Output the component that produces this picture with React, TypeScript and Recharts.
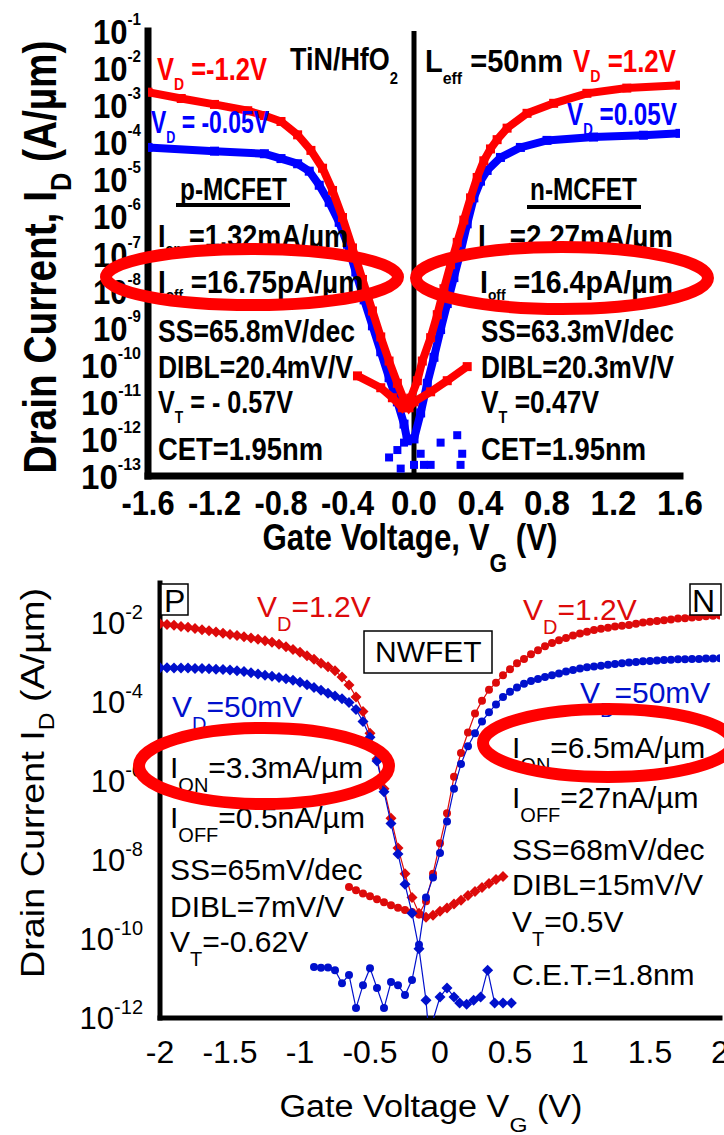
import React from "react";
import { ComposedChart, Scatter, XAxis, YAxis, ReferenceLine } from "recharts";

// upper panel lettering is a bold sans squeezed to the set widths
const BOLD = "'Liberation Sans', Arial, Helvetica, sans-serif";
const SANS = "'Liberation Sans', Arial, Helvetica, sans-serif";

// ---------- upper panel: TiN/HfO2 MCFET, [gate voltage, log10 Id] ----------
const mcXTicks = [-1.6, -1.2, -0.8, -0.4, 0, 0.4, 0.8, 1.2, 1.6];
const mcXMinor = [-1.6, -1.4, -1.2, -1.0, -0.8, -0.6, -0.4, -0.2, 0, 0.2, 0.4, 0.6, 0.8, 1.0, 1.2, 1.4, 1.6];
const mcYTicks = [-1, -2, -3, -4, -5, -6, -7, -8, -9, -10, -11, -12, -13];

const mcRedP = [
  [-1.6, -2.65], [-1.4, -2.82], [-1.2, -2.98], [-1.0, -3.15], [-0.9, -3.28], [-0.8, -3.44],
  [-0.7, -3.8], [-0.62, -4.22], [-0.55, -4.7], [-0.49, -5.3], [-0.43, -6.03], [-0.37, -6.85],
  [-0.31, -7.7], [-0.25, -8.55], [-0.2, -9.25], [-0.15, -9.9], [-0.1, -10.5], [-0.06, -10.95],
  [-0.03, -11.16], [0.0, -11.0], [0.1, -10.73], [0.2, -10.43], [0.32, -10.05],
];
const mcBlueP = [
  [-1.6, -4.14], [-1.2, -4.24], [-0.9, -4.31], [-0.8, -4.44], [-0.7, -4.58], [-0.63, -4.78],
  [-0.57, -5.16], [-0.51, -5.62], [-0.45, -6.16], [-0.4, -6.75], [-0.35, -7.5], [-0.3, -8.25],
  [-0.25, -8.95], [-0.2, -9.65], [-0.15, -10.35], [-0.1, -11.0], [-0.06, -11.6], [-0.04, -12.05],
];
const mcRedN = [
  [-0.34, -10.3], [-0.2, -10.62], [-0.13, -10.89], [-0.07, -11.16], [-0.02, -10.9], [0.02, -10.43],
  [0.05, -9.9], [0.1, -9.27], [0.14, -8.65], [0.18, -7.95], [0.22, -7.3], [0.26, -6.7],
  [0.3, -6.1], [0.34, -5.5], [0.38, -4.95], [0.42, -4.5], [0.46, -4.18], [0.5, -3.93],
  [0.56, -3.62], [0.68, -3.22], [0.84, -2.95], [1.04, -2.68], [1.28, -2.54], [1.6, -2.46],
];
const mcBlueN = [
  [0.0, -12.0], [0.04, -11.3], [0.08, -10.5], [0.12, -9.8], [0.16, -9.05], [0.2, -8.35],
  [0.24, -7.65], [0.28, -6.95], [0.32, -6.2], [0.36, -5.5], [0.4, -5.05], [0.44, -4.76],
  [0.52, -4.41], [0.64, -4.14], [0.8, -3.95], [1.08, -3.86], [1.38, -3.81], [1.6, -3.76],
];
const mcBlueNoise = [
  [-0.15, -12.5], [-0.1, -12.3], [-0.08, -12.8], [-0.06, -12.1], [0.0, -12.7], [0.04, -12.4],
  [0.06, -12.7], [0.1, -12.7], [0.16, -12.1], [0.26, -11.9], [0.29, -12.4], [0.28, -12.7],
];

// ---------- lower panel: NWFET, [gate voltage, log10 Id] ----------
const nwXTicks = [-2, -1.5, -1, -0.5, 0, 0.5, 1, 1.5, 2];
const nwYLabels = [-12, -10, -8, -6, -4, -2];
const nwYDecades = [-12, -11, -10, -9, -8, -7, -6, -5, -4, -3, -2, -1];

const nwRedP = [
  [-2.0, -2.03], [-1.95, -2.05], [-1.9, -2.07], [-1.85, -2.1], [-1.8, -2.12], [-1.75, -2.15],
  [-1.7, -2.18], [-1.65, -2.21], [-1.6, -2.24], [-1.55, -2.27], [-1.5, -2.3], [-1.45, -2.33],
  [-1.4, -2.36], [-1.35, -2.39], [-1.3, -2.42], [-1.25, -2.46], [-1.2, -2.5], [-1.15, -2.55],
  [-1.1, -2.61], [-1.05, -2.68], [-1.0, -2.75], [-0.95, -2.84], [-0.9, -2.93], [-0.85, -3.03],
  [-0.8, -3.12], [-0.75, -3.22], [-0.7, -3.38], [-0.65, -3.58], [-0.6, -3.88], [-0.55, -4.25],
  [-0.5, -4.8], [-0.45, -5.45], [-0.4, -6.2], [-0.35, -6.95], [-0.3, -7.7], [-0.25, -8.35],
  [-0.2, -8.95], [-0.15, -9.35], [-0.1, -9.45], [-0.05, -9.4], [0.0, -9.3], [0.05, -9.22],
  [0.1, -9.12], [0.15, -9.02], [0.2, -8.9], [0.25, -8.8], [0.3, -8.7], [0.35, -8.6],
  [0.4, -8.5], [0.45, -8.42],
];
const nwBlueP = [
  [-2.0, -3.14], [-1.95, -3.14], [-1.9, -3.15], [-1.85, -3.15], [-1.8, -3.15], [-1.75, -3.16],
  [-1.7, -3.16], [-1.65, -3.17], [-1.6, -3.18], [-1.55, -3.19], [-1.5, -3.2], [-1.45, -3.22],
  [-1.4, -3.24], [-1.35, -3.27], [-1.3, -3.3], [-1.25, -3.33], [-1.2, -3.36], [-1.15, -3.39],
  [-1.1, -3.42], [-1.05, -3.46], [-1.0, -3.51], [-0.95, -3.57], [-0.9, -3.64], [-0.85, -3.71],
  [-0.8, -3.79], [-0.75, -3.86], [-0.7, -3.93], [-0.65, -4.02], [-0.6, -4.2], [-0.55, -4.5],
  [-0.5, -4.9], [-0.45, -5.5], [-0.4, -6.28], [-0.35, -7.08], [-0.3, -7.85], [-0.25, -8.62],
  [-0.2, -9.35], [-0.15, -10.25], [-0.1, -11.55], [-0.08, -12.4], [0.0, -11.47], [0.05, -11.24],
  [0.1, -11.47], [0.14, -11.62], [0.19, -11.65], [0.24, -11.55], [0.29, -11.47], [0.34, -10.79],
  [0.39, -11.62], [0.45, -11.62], [0.51, -11.62],
];
const nwRedN = [
  [-0.65, -8.69], [-0.6, -8.77], [-0.55, -8.85], [-0.5, -8.92], [-0.45, -9.0], [-0.4, -9.07],
  [-0.35, -9.15], [-0.3, -9.21], [-0.25, -9.27], [-0.2, -9.32], [-0.15, -9.38], [-0.1, -9.05],
  [-0.05, -8.35], [0.0, -7.58], [0.05, -6.82], [0.1, -5.9], [0.15, -5.3], [0.2, -4.78],
  [0.25, -4.3], [0.3, -3.98], [0.35, -3.7], [0.4, -3.52], [0.45, -3.33], [0.5, -3.18],
  [0.55, -3.03], [0.6, -2.92], [0.65, -2.8], [0.7, -2.7], [0.75, -2.6], [0.8, -2.52],
  [0.85, -2.45], [0.9, -2.39], [0.95, -2.33], [1.0, -2.28], [1.05, -2.23], [1.1, -2.19],
  [1.15, -2.16], [1.2, -2.13], [1.25, -2.1], [1.3, -2.08], [1.35, -2.06], [1.4, -2.03],
  [1.45, -2.0], [1.5, -1.98], [1.55, -1.96], [1.6, -1.94], [1.65, -1.92], [1.7, -1.9],
  [1.75, -1.89], [1.8, -1.87], [1.85, -1.86], [1.9, -1.84], [1.95, -1.83], [2.0, -1.82],
];
const nwBlueN = [
  [-0.9, -10.71], [-0.85, -10.73], [-0.8, -10.72], [-0.75, -10.79], [-0.7, -11.12], [-0.65, -10.91],
  [-0.6, -11.75], [-0.55, -11.17], [-0.5, -10.74], [-0.45, -11.24], [-0.4, -11.75], [-0.35, -11.09],
  [-0.3, -11.17], [-0.25, -11.42], [-0.2, -11.04], [-0.15, -10.15], [-0.1, -8.95], [-0.05, -8.45],
  [0.0, -7.83], [0.05, -7.03], [0.1, -6.2], [0.15, -5.58], [0.2, -5.13], [0.25, -4.8],
  [0.3, -4.5], [0.35, -4.27], [0.4, -4.07], [0.45, -3.88], [0.5, -3.75], [0.55, -3.64],
  [0.6, -3.55], [0.65, -3.48], [0.7, -3.43], [0.75, -3.38], [0.8, -3.33], [0.85, -3.29],
  [0.9, -3.24], [0.95, -3.2], [1.0, -3.16], [1.05, -3.13], [1.1, -3.11], [1.15, -3.09],
  [1.2, -3.07], [1.25, -3.05], [1.3, -3.03], [1.35, -3.01], [1.4, -3.0], [1.45, -2.98],
  [1.5, -2.97], [1.55, -2.96], [1.6, -2.95], [1.65, -2.94], [1.7, -2.93], [1.75, -2.93],
  [1.8, -2.92], [1.85, -2.92], [1.9, -2.91], [1.95, -2.91], [2.0, -2.9],
];

const RED = "#ff0000";
const BLUE = "#0000ff";
const NW_RED = "#dd0a0a";
const NW_BLUE = "#0010cc";

const toRows = (rows: number[][]) => rows.map(([v, logI]) => ({ v, logI }));

const square = (color: string, s: number) => (p: any) =>
  <rect x={p.cx - s / 2} y={p.cy - s / 2} width={s} height={s} fill={color} />;
const diamond = (color: string, r: number) => (p: any) =>
  <polygon points={`${p.cx},${p.cy - r} ${p.cx + r},${p.cy} ${p.cx},${p.cy + r} ${p.cx - r},${p.cy}`} fill={color} />;
const dot = (color: string, r: number) => (p: any) => <circle cx={p.cx} cy={p.cy} r={r} fill={color} />;

// text with subscripts: parts given as ["sub"] arrays drop below the baseline;
// len squeezes the whole line to a fixed width
function Txt({ x, y, parts, size, fill = "#000", font = SANS, weight = "normal", anchor = "start",
  subDy = 12, subSize = 18, transform, len }: any) {
  let down = false;
  const fit = len ? { textLength: len, lengthAdjust: "spacingAndGlyphs" } : {};
  return (
    <text x={x} y={y} fontSize={size} fill={fill} fontFamily={font} fontWeight={weight}
      textAnchor={anchor} transform={transform} style={{ whiteSpace: "pre" }} {...fit}>
      {parts.map((p: any, i: number) => {
        if (Array.isArray(p)) {
          down = true;
          return <tspan key={i} dy={subDy} fontSize={subSize}>{p[0]}</tspan>;
        }
        const dy = down ? -subDy : 0;
        down = false;
        return <tspan key={i} dy={dy}>{p}</tspan>;
      })}
    </text>
  );
}

const McXTick = ({ x, y, payload }: any) => {
  const s = payload.value.toFixed(1);
  return (
    <text x={x} y={y + 39} textAnchor="middle" fontFamily={BOLD} fontWeight="bold" fontSize={35}
      textLength={s.length > 3 ? 53 : 46} lengthAdjust="spacingAndGlyphs">
      {s}
    </text>
  );
};
const McYTick = ({ x, y, payload }: any) => (
  <text x={x - 7} y={y + 13} textAnchor="end" fontFamily={BOLD} fontWeight="bold" fontSize={35}
    textLength={String(payload.value).length > 2 ? 60 : 48} lengthAdjust="spacingAndGlyphs">
    10<tspan dy={-19} fontSize={17}>{payload.value}</tspan>
  </text>
);
const NwXTick = ({ x, y, payload }: any) => (
  <text x={x} y={y + 45} textAnchor="middle" fontFamily={SANS} fontSize={32}>{String(payload.value)}</text>
);
const NwYTick = ({ x, y, payload }: any) => (
  <text x={x - 17} y={y + 11} textAnchor="end" fontFamily={SANS} fontSize={31}>
    10<tspan dy={-15} fontSize={20}>{payload.value}</tspan>
  </text>
);

const mcLine = { stroke: "#000", strokeWidth: 7, strokeLinecap: "square" as const };
const mcTick = { stroke: "#000", strokeWidth: 5 };
const nwLine = { stroke: "#000", strokeWidth: 5, strokeLinecap: "square" as const };
const nwTick = { stroke: "#000", strokeWidth: 4 };

function McfetChart() {
  const dom: [number, number] = [-1.6, 1.6];
  const ydom: [number, number] = [-13, -1];
  return (
    <ComposedChart width={724} height={560} margin={{ top: 31, right: 44, bottom: 0, left: 0 }}>
      <XAxis xAxisId="x" dataKey="v" type="number" domain={dom} ticks={mcXTicks} interval={0} height={84}
        tickSize={0} tickMargin={0} tickLine={false} axisLine={mcLine} tick={<McXTick />} allowDataOverflow />
      <XAxis xAxisId="xb" type="number" domain={dom} ticks={mcXMinor} interval={0} mirror height={0}
        tickSize={9} tick={false} axisLine={false} tickLine={mcTick} allowDataOverflow />
      <XAxis xAxisId="xt" orientation="top" type="number" domain={dom} ticks={mcXTicks} interval={0} mirror
        height={0} tickSize={9} tick={false} axisLine={mcLine} tickLine={mcTick} allowDataOverflow />
      <YAxis yAxisId="y" dataKey="logI" type="number" domain={ydom} ticks={mcYTicks} interval={0} width={148}
        tickSize={0} tickMargin={0} tickLine={false} axisLine={mcLine} tick={<McYTick />} allowDataOverflow />
      <YAxis yAxisId="yl" type="number" domain={ydom} ticks={mcYTicks} interval={0} mirror width={0}
        tickSize={9} tick={false} axisLine={false} tickLine={mcTick} allowDataOverflow />
      <YAxis yAxisId="yr" orientation="right" type="number" domain={ydom} ticks={mcYTicks} interval={0} mirror
        width={0} tickSize={9} tick={false} axisLine={mcLine} tickLine={mcTick} allowDataOverflow />
      <ReferenceLine xAxisId="x" yAxisId="y" x={0} stroke="#000" strokeWidth={5} />
      <Scatter xAxisId="x" yAxisId="y" data={toRows(mcBlueP)} line={{ stroke: BLUE, strokeWidth: 8 }}
        shape={square(BLUE, 9)} isAnimationActive={false} />
      <Scatter xAxisId="x" yAxisId="y" data={toRows(mcBlueN)} line={{ stroke: BLUE, strokeWidth: 8 }}
        shape={square(BLUE, 9)} isAnimationActive={false} />
      <Scatter xAxisId="x" yAxisId="y" data={toRows(mcBlueNoise)} shape={square(BLUE, 8)} isAnimationActive={false} />
      <Scatter xAxisId="x" yAxisId="y" data={toRows(mcRedP)} line={{ stroke: RED, strokeWidth: 8 }}
        shape={square(RED, 9)} isAnimationActive={false} />
      <Scatter xAxisId="x" yAxisId="y" data={toRows(mcRedN)} line={{ stroke: RED, strokeWidth: 8 }}
        shape={square(RED, 9)} isAnimationActive={false} />
    </ComposedChart>
  );
}

function NwfetChart() {
  const dom: [number, number] = [-2, 2];
  const ydom: [number, number] = [-12, -1];
  return (
    <ComposedChart width={724} height={575} margin={{ top: 23, right: 4, bottom: 0, left: 0 }}>
      <XAxis xAxisId="x" dataKey="v" type="number" domain={dom} ticks={nwXTicks} interval={0} height={117}
        tickSize={0} tickMargin={0} tickLine={false} axisLine={nwLine} tick={<NwXTick />} allowDataOverflow />
      <XAxis xAxisId="xb" type="number" domain={dom} ticks={nwXTicks} interval={0} mirror height={0}
        tickSize={11} tick={false} axisLine={false} tickLine={nwTick} allowDataOverflow />
      <XAxis xAxisId="xt" orientation="top" type="number" domain={dom} ticks={nwXTicks} interval={0} mirror
        height={0} tickSize={11} tick={false} axisLine={{ ...nwLine, strokeWidth: 4 }} tickLine={nwTick} allowDataOverflow />
      <YAxis yAxisId="y" dataKey="logI" type="number" domain={ydom} ticks={nwYLabels} interval={0} width={160}
        tickSize={0} tickMargin={0} tickLine={false} axisLine={nwLine} tick={<NwYTick />} allowDataOverflow />
      <YAxis yAxisId="yl" type="number" domain={ydom} ticks={nwYDecades} interval={0} mirror width={0}
        tickSize={11} tick={false} axisLine={false} tickLine={nwTick} allowDataOverflow />
      <YAxis yAxisId="yr" orientation="right" type="number" domain={ydom} ticks={nwYDecades} interval={0} mirror
        width={0} tickSize={11} tick={false} axisLine={{ ...nwLine, strokeWidth: 4 }} tickLine={nwTick} allowDataOverflow />
      <Scatter xAxisId="x" yAxisId="y" data={toRows(nwRedP)} line={{ stroke: NW_RED, strokeWidth: 1.2 }}
        shape={diamond(NW_RED, 5.5)} isAnimationActive={false} />
      <Scatter xAxisId="x" yAxisId="y" data={toRows(nwRedN)} line={{ stroke: NW_RED, strokeWidth: 1.2 }}
        shape={dot(NW_RED, 4)} isAnimationActive={false} />
      <Scatter xAxisId="x" yAxisId="y" data={toRows(nwBlueP)} line={{ stroke: NW_BLUE, strokeWidth: 1.2 }}
        shape={diamond(NW_BLUE, 5.5)} isAnimationActive={false} />
      <Scatter xAxisId="x" yAxisId="y" data={toRows(nwBlueN)} line={{ stroke: NW_BLUE, strokeWidth: 1.2 }}
        shape={dot(NW_BLUE, 4)} isAnimationActive={false} />
    </ComposedChart>
  );
}

function Annotations() {
  const mc = { font: BOLD, weight: "bold", size: 31, subSize: 17, subDy: 10 };
  const mcI = { ...mc, subSize: 15, subDy: 7 };
  const nw = { font: SANS, size: 30, subSize: 20, subDy: 14 };
  return (
    <svg width={724} height={1135} style={{ position: "absolute", left: 0, top: 0, pointerEvents: "none" }}>
      {/* upper panel labels */}
      <Txt {...mc} x={157} y={80} len={110} fill={RED} parts={["V", ["D"], " =-1.2V"]} />
      <Txt {...mc} x={151} y={133} len={118} fill={BLUE} parts={["V", ["D"], " = -0.05V"]} />
      <Txt {...mc} x={290} y={70} len={108} parts={["TiN/HfO", ["2"]]} subDy={14} />
      <Txt {...mc} x={425} y={72} len={138} parts={["L", ["eff"], " =50nm"]} subDy={12} />
      <Txt {...mc} x={573} y={72} len={103} fill={RED} parts={["V", ["D"], " =1.2V"]} />
      <Txt {...mc} x={567} y={125} len={110} fill={BLUE} parts={["V", ["D"], " =0.05V"]} />
      <Txt {...mc} x={180} y={200} len={107} parts={["p-MCFET"]} />
      <rect x={176} y={203} width={114} height={4} fill="#000" />
      <Txt {...mc} x={530} y={200} len={107} parts={["n-MCFET"]} />
      <rect x={527} y={205} width={114} height={4} fill="#000" />

      <Txt {...mcI} x={158} y={247} len={190} parts={["I", ["on"], " =1.32mA/µm"]} />
      <Txt {...mcI} x={158} y={293} len={205} parts={["I", ["off"], " =16.75pA/µm"]} />
      <Txt {...mc} x={158} y={342} len={197} parts={["SS=65.8mV/dec"]} />
      <Txt {...mc} x={158} y={378} len={195} parts={["DIBL=20.4mV/V"]} />
      <Txt {...mc} x={158} y={413} len={135} parts={["V", ["T"], " = - 0.57V"]} />
      <Txt {...mc} x={158} y={460} len={165} parts={["CET=1.95nm"]} />

      <Txt {...mcI} x={478} y={247} len={195} parts={["I", ["on"], " =2.27mA/µm"]} />
      <Txt {...mcI} x={480} y={293} len={193} parts={["I", ["off"], " =16.4pA/µm"]} />
      <Txt {...mc} x={481} y={342} len={193} parts={["SS=63.3mV/dec"]} />
      <Txt {...mc} x={481} y={378} len={193} parts={["DIBL=20.3mV/V"]} />
      <Txt {...mc} x={481} y={413} len={118} parts={["V", ["T"], " =0.47V"]} />
      <Txt {...mc} x={481} y={460} len={165} parts={["CET=1.95nm"]} />

      <Txt font={BOLD} weight="bold" size={46} subSize={30} subDy={15} anchor="middle" x={0} y={0} len={433}
        transform="translate(56,257) rotate(-90)" parts={["Drain Current, I", ["D"], " (A/µm)"]} />
      <Txt font={BOLD} weight="bold" size={36} subSize={26} subDy={22} anchor="middle" x={410} y={550} len={295}
        parts={["Gate Voltage, V", ["G"], " (V)"]} />

      <ellipse cx={252} cy={277} rx={146} ry={28} fill="none" stroke={RED} strokeWidth={12} />
      <ellipse cx={562} cy={278} rx={146} ry={31} fill="none" stroke={RED} strokeWidth={12} />

      {/* lower panel labels */}
      <rect x={161} y={584} width={27} height={31} fill="#fff" stroke="#000" strokeWidth={1.5} />
      <Txt font={SANS} size={32} x={164} y={612} parts={["P"]} />
      <rect x={690} y={584} width={31} height={31} fill="#fff" stroke="#000" strokeWidth={1.5} />
      <Txt font={SANS} size={32} x={692} y={612} parts={["N"]} />
      <rect x={364} y={631} width={128} height={42} fill="#fff" stroke="#000" strokeWidth={1.5} />
      <Txt font={SANS} size={30} x={375} y={662} parts={["NWFET"]} />

      <Txt {...nw} x={257} y={617} fill={NW_RED} parts={["V", ["D"], "=1.2V"]} />
      <Txt {...nw} x={523} y={620} fill={NW_RED} parts={["V", ["D"], "=1.2V"]} />
      <Txt {...nw} x={172} y={717} fill={NW_BLUE} parts={["V", ["D"], "=50mV"]} />
      <Txt {...nw} x={580} y={703} fill={NW_BLUE} parts={["V", ["D"], "=50mV"]} />

      <Txt {...nw} x={170} y={778} parts={["I", ["ON"], "=3.3mA/µm"]} />
      <Txt {...nw} x={170} y={828} parts={["I", ["OFF"], "=0.5nA/µm"]} />
      <Txt {...nw} x={170} y={880} parts={["SS=65mV/dec"]} />
      <Txt {...nw} x={170} y={917} parts={["DIBL=7mV/V"]} />
      <Txt {...nw} x={170} y={952} parts={["V", ["T"], "=-0.62V"]} />

      <Txt {...nw} x={512} y={758} parts={["I", ["ON"], "=6.5mA/µm"]} />
      <Txt {...nw} x={512} y={808} parts={["I", ["OFF"], "=27nA/µm"]} />
      <Txt {...nw} x={512} y={860} parts={["SS=68mV/dec"]} />
      <Txt {...nw} x={512} y={895} parts={["DIBL=15mV/V"]} />
      <Txt {...nw} x={512} y={932} parts={["V", ["T"], "=0.5V"]} />
      <Txt {...nw} x={512} y={985} parts={["C.E.T.=1.8nm"]} />

      <Txt font={SANS} size={34} subSize={22} subDy={10} anchor="middle" x={0} y={0} len={390}
        transform="translate(44,783) rotate(-90)" parts={["Drain Current I", ["D"], " (A/µm)"]} />
      <Txt font={SANS} size={31} subSize={21} subDy={15} anchor="middle" x={431} y={1117} len={303}
        parts={["Gate Voltage V", ["G"], " (V)"]} />

      <ellipse cx={264} cy={766} rx={125} ry={38} fill="none" stroke={RED} strokeWidth={12} />
      <ellipse cx={608} cy={743} rx={125} ry={34} fill="none" stroke={RED} strokeWidth={12} />
    </svg>
  );
}

export default function App() {
  return (
    <div style={{ position: "absolute", left: 0, top: 0, width: 724, height: 1135, background: "#fff", overflow: "hidden" }}>
      <div style={{ position: "absolute", left: 0, top: 0 }}>
        <McfetChart />
      </div>
      <div style={{ position: "absolute", left: 0, top: 560 }}>
        <NwfetChart />
      </div>
      <Annotations />
    </div>
  );
}
